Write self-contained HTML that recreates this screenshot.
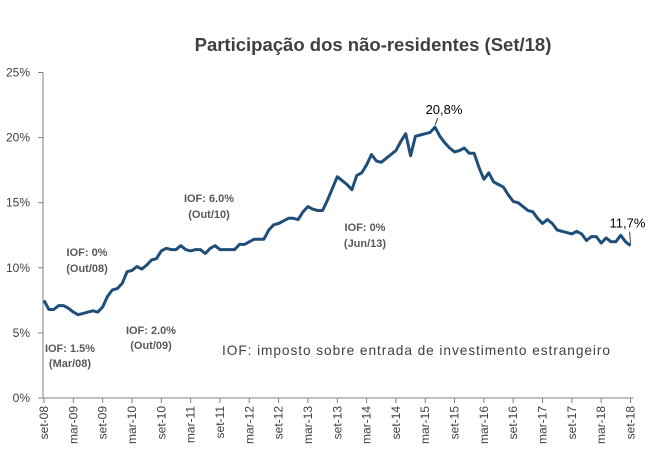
<!DOCTYPE html>
<html><head><meta charset="utf-8"><style>
body{margin:0;background:#fff;}
svg{display:block;font-family:"Liberation Sans",sans-serif;}
</style></head><body>
<svg id="chart" width="662" height="473">
<text x="373" y="51" text-anchor="middle" font-size="18.5" font-weight="bold" fill="#404040">Participação dos não-residentes (Set/18)</text>
<g id="axes"></g>
<g id="annots" font-size="11" font-weight="bold" fill="#595959" text-anchor="middle">
<text x="70" y="352"><tspan x="70">IOF: 1.5%</tspan><tspan x="70" dy="15">(Mar/08)</tspan></text>
<text x="87" y="256"><tspan x="87">IOF: 0%</tspan><tspan x="87" dy="16">(Out/08)</tspan></text>
<text x="151" y="334"><tspan x="151">IOF: 2.0%</tspan><tspan x="151" dy="15">(Out/09)</tspan></text>
<text x="209" y="202"><tspan x="209">IOF: 6.0%</tspan><tspan x="209" dy="16">(Out/10)</tspan></text>
<text x="365" y="231"><tspan x="365">IOF: 0%</tspan><tspan x="365" dy="16">(Jun/13)</tspan></text>
</g>
<text x="222" y="355" font-size="13.7" fill="#404040" textLength="388">IOF: imposto sobre entrada de investimento estrangeiro</text>
<g id="series"></g>
</svg>
<script>
const startLabels=["set-08","mar-09","set-09","mar-10","set-10","mar-11","set-11","mar-12","set-12","mar-13","set-13","mar-14","set-14","mar-15","set-15","mar-16","set-16","mar-17","set-17","mar-18","set-18"];
const yTicks=[0,5,10,15,20,25];
const values=[7.5,6.8,6.8,7.1,7.1,6.9,6.6,6.4,6.5,6.6,6.7,6.6,7.0,7.8,8.3,8.4,8.8,9.7,9.8,10.1,9.9,10.2,10.6,10.7,11.3,11.5,11.4,11.4,11.7,11.4,11.3,11.4,11.4,11.1,11.5,11.7,11.4,11.4,11.4,11.4,11.8,11.8,12.0,12.2,12.2,12.2,12.9,13.3,13.4,13.6,13.8,13.8,13.7,14.3,14.7,14.5,14.4,14.4,15.2,16.1,17.0,16.7,16.4,16.0,17.1,17.3,17.9,18.7,18.2,18.1,18.4,18.7,19.0,19.7,20.3,18.6,20.1,20.2,20.3,20.4,20.8,20.1,19.6,19.2,18.9,19.0,19.2,18.8,18.8,17.7,16.8,17.3,16.6,16.4,16.2,15.6,15.1,15.0,14.7,14.4,14.3,13.8,13.4,13.7,13.4,12.9,12.8,12.7,12.6,12.8,12.6,12.1,12.4,12.4,11.9,12.3,12.0,12.0,12.5,12.0,11.7];
const ns="http://www.w3.org/2000/svg";
const X0=44,X1=630.5,Y0=398,Y1=72.5;
function xs(i){return X0+(X1-X0)*i/(values.length-1);}
function ys(v){return Y0-(Y0-Y1)*v/25;}
function mk(tag,attrs,parent){const e=document.createElementNS(ns,tag);for(const k in attrs)e.setAttribute(k,attrs[k]);parent.appendChild(e);return e;}
const axes=document.getElementById('axes');
const ya=mk('line',{x1:43,y1:Y1,x2:43,y2:Y0,stroke:'#808080'},axes);


const xa=mk('line',{x1:43,y1:Y0,x2:X1+3,y2:Y0,stroke:'#808080'},axes);


yTicks.forEach(t=>{const y=ys(t);
 const tk=mk('line',{x1:38,y1:y,x2:43,y2:y,stroke:'#808080'},axes);
 
 
 const tx=mk('text',{x:30,y:y+4,'text-anchor':'end','font-size':12,fill:'#404040'},axes);
 tx.textContent=t+'%';
 
 
});
startLabels.forEach((l,j)=>{const x=xs(j*6);
 const tk=mk('line',{x1:x,y1:Y0,x2:x,y2:Y0+5,stroke:'#808080'},axes);
 
 
 const tx=mk('text',{x:0,y:0,'text-anchor':'end','font-size':12,fill:'#404040',transform:`translate(${x+4},${Y0+8}) rotate(-90)`},axes);
 tx.textContent=l;
 
 
});
const s=document.getElementById('series');
const pts=values.map((v,i)=>xs(i).toFixed(1)+','+ys(v).toFixed(1)).join(' ');
const pl=mk('polyline',{points:pts,fill:'none',stroke:'#1f4e79','stroke-width':3,'stroke-linejoin':'round'},s);


let pk=0;values.forEach((v,i)=>{if(v>values[pk])pk=i;});
const last=values.length-1;
function lab(i,dx,dy,name){
 const x=xs(i),y=ys(values[i]);
 const ln=mk('line',{x1:x,y1:y-2,x2:x+dx*0.3,y2:y+dy+4,stroke:'#404040','stroke-width':1},s);
 
 
 const t=mk('text',{x:x+dx,y:y+dy,'text-anchor':'middle','font-size':13,fill:'#000'},s);
 t.textContent=values[i].toFixed(1).replace('.',',')+'%';
 
 
}
lab(pk,9,-13,'peak-label');
lab(last,-3,-18,'last-value-label');
</script>
</body></html>
